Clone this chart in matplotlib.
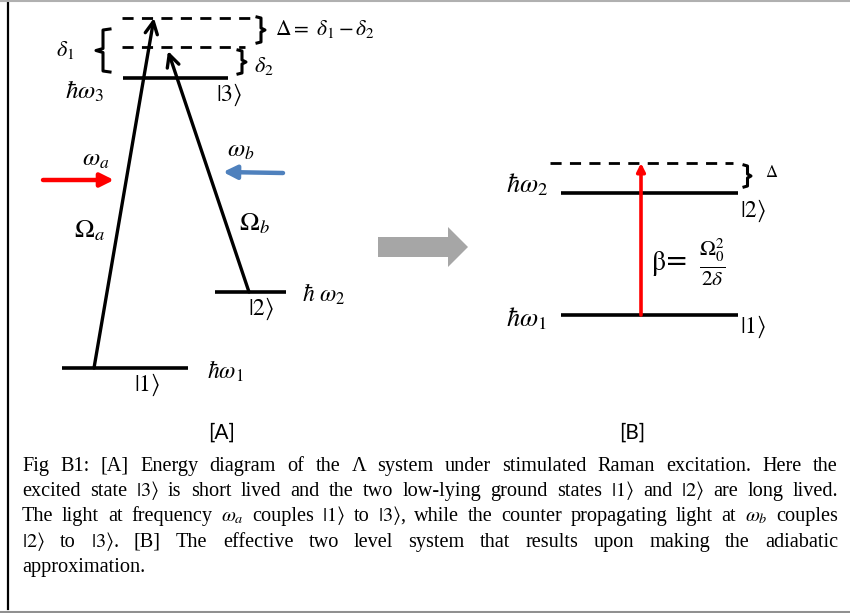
import matplotlib
matplotlib.use("Agg")
import matplotlib.pyplot as plt

plt.rcParams['mathtext.fontset'] = 'stix'

# panel A: energy levels (pixel units of the figure)
kets_a = [r'$|1\rangle$', r'$|2\rangle$', r'$|3\rangle$']
energies_a = [r'$\hbar\omega_1$', r'$\hbar\ \omega_2$', r'$\hbar\omega_3$']
level_y_a = [368, 292, 78]
level_x_a = [(62, 188), (215, 286), (123, 228)]
virtual_y_a = [18, 47]

# panel B: effective two level system
kets_b = [r'$|1\rangle$', r'$|2\rangle$']
energies_b = [r'$\hbar\omega_1$', r'$\hbar\omega_2$']
level_y_b = [315, 193]
virtual_y_b = 163

caption_lines = [
    r"Fig B1: [A] Energy diagram of the Λ system under stimulated Raman excitation. Here the",
    r"excited state $|3\rangle$ is short lived and the two low-lying ground states $|1\rangle$ and $|2\rangle$  are long lived.",
    r"The light at frequency $\omega_a$ couples $|1\rangle$ to $|3\rangle$, while the counter propagating light at $\omega_b$ couples",
    r"$|2\rangle$ to $|3\rangle$. [B] The effective two level system that results upon making the adiabatic",
    r"approximation.",
]

fig = plt.figure(figsize=(8.5, 6.13), dpi=100)
ax = fig.add_axes([0, 0, 1, 1])
ax.set_xlim(0, 850)
ax.set_ylim(613, 0)
ax.axis('off')

# frame
ax.plot([8, 8], [0, 609], color='black', lw=1.6)
ax.plot([0, 850], [0.5, 0.5], color='#b0b0b0', lw=1.5)
ax.plot([0, 850], [611.5, 611.5], color='#909090', lw=1.5)

# --- panel A ---
for (x0, x1), y in zip(level_x_a, level_y_a):
    ax.plot([x0, x1], [y, y], color='black', lw=2.6, solid_capstyle='butt')
ax.plot([122, 255], [virtual_y_a[0]] * 2, color='black', lw=2, ls=(0, (4, 3)))
ax.plot([122, 245], [virtual_y_a[1]] * 2, color='black', lw=2, ls=(0, (4, 3)))

ax.text(134, 385, kets_a[0], fontsize=17, ha='left', va='center')
ax.text(207, 371, energies_a[0], fontsize=17, ha='left', va='center')
ax.text(248, 309, kets_a[1], fontsize=17, ha='left', va='center')
ax.text(302, 294, energies_a[1], fontsize=17, ha='left', va='center')
ax.text(216, 95, kets_a[2], fontsize=17, ha='left', va='center')
ax.text(65, 91, energies_a[2], fontsize=18, ha='left', va='center')


def brace(x, y0, y1, w, side, lw=2.2):
    # side = 1 -> '}', side = -1 -> '{'
    ym = (y0 + y1) / 2
    xs = [x, x + side * w, x + side * w, x + side * 2 * w, x + side * w, x + side * w, x]
    ys = [y0, y0 + 1, ym - 2, ym, ym + 2, y1 - 1, y1]
    ax.plot(xs, ys, color='black', lw=lw, solid_joinstyle='round')


brace(257, 17, 43, 4, 1)
brace(238, 50, 74, 4, 1)
brace(110, 29, 72, 7, -1)
ax.text(275, 29, r'$\Delta =\ \delta_1 - \delta_2$', fontsize=15.5, ha='left', va='center')
ax.text(254, 66, r'$\delta_2$', fontsize=16, ha='left', va='center')
ax.text(56, 50, r'$\delta_1$', fontsize=16, ha='left', va='center')

ax.annotate('', xy=(154, 18), xytext=(94, level_y_a[0]),
            arrowprops=dict(arrowstyle='->', lw=2.4, color='black', mutation_scale=22,
                            shrinkA=0, shrinkB=0))
ax.annotate('', xy=(168, 51), xytext=(249, level_y_a[1]),
            arrowprops=dict(arrowstyle='->', lw=2.4, color='black', mutation_scale=22,
                            shrinkA=0, shrinkB=0))

ax.annotate('', xy=(114, 180), xytext=(43, 180),
            arrowprops=dict(arrowstyle='-|>', lw=3.2, color='#ff0000', mutation_scale=20,
                            shrinkA=0, shrinkB=0))
ax.annotate('', xy=(223, 172), xytext=(283, 173),
            arrowprops=dict(arrowstyle='-|>', lw=3.2, color='#4f81bd', mutation_scale=20,
                            shrinkA=0, shrinkB=0))
ax.text(82, 159, r'$\omega_a$', fontsize=18, ha='left', va='center')
ax.text(227, 150, r'$\omega_b$', fontsize=18, ha='left', va='center')
ax.text(74, 230, r'$\Omega_a$', fontsize=19, ha='left', va='center')
ax.text(239, 223, r'$\Omega_b$', fontsize=19, ha='left', va='center')

# big gray arrow
ax.arrow(378, 247, 90, 0, width=20, head_width=40, head_length=20,
         length_includes_head=True, color='#a6a6a6', lw=0)

# --- panel B ---
for y in level_y_b:
    ax.plot([561, 738], [y, y], color='black', lw=2.6, solid_capstyle='butt')
ax.plot([550, 733], [virtual_y_b] * 2, color='black', lw=2, ls=(0, (4, 3)))
ax.annotate('', xy=(641, virtual_y_b), xytext=(641, level_y_b[0]),
            arrowprops=dict(arrowstyle='-|>', lw=2.6, color='#ff0000', mutation_scale=12,
                            shrinkA=0, shrinkB=0))
ax.text(506, 319, energies_b[0], fontsize=19, ha='left', va='center')
ax.text(506, 185, energies_b[1], fontsize=19, ha='left', va='center')
ax.text(740, 327, kets_b[0], fontsize=17, ha='left', va='center')
ax.text(740, 211, kets_b[1], fontsize=17, ha='left', va='center')
brace(744, 165, 187, 3.5, 1)
ax.text(765, 172, r'$\Delta$', fontsize=12, ha='left', va='center')
ax.text(651, 263, r'$\mathrm{\beta}$=', fontsize=20, ha='left', va='center')
ax.text(699, 263, r'$\frac{\Omega_0^2}{2\delta}$', fontsize=22, ha='left', va='center')

ax.text(222, 433, '[A]', fontsize=15, family='Lato', ha='center', va='center')
ax.text(632, 433, '[B]', fontsize=15, family='Lato', ha='center', va='center')

# caption, justified between left and right margins
renderer = fig.canvas.get_renderer()
left, right = 22, 838
for i, line in enumerate(caption_lines):
    y = 471 + i * 25.2
    words = [w for w in line.split(' ') if w]
    texts = [ax.text(0, y, w, fontsize=14.6, family='Liberation Serif', ha='left', va='baseline')
             for w in words]
    widths = [t.get_window_extent(renderer).width for t in texts]
    if i == len(caption_lines) - 1:
        gap = 4.5
    else:
        gap = (right - left - sum(widths)) / (len(words) - 1)
    x = left
    for t, w in zip(texts, widths):
        t.set_x(x)
        x += w + gap

fig.savefig('out.png', dpi=100)
